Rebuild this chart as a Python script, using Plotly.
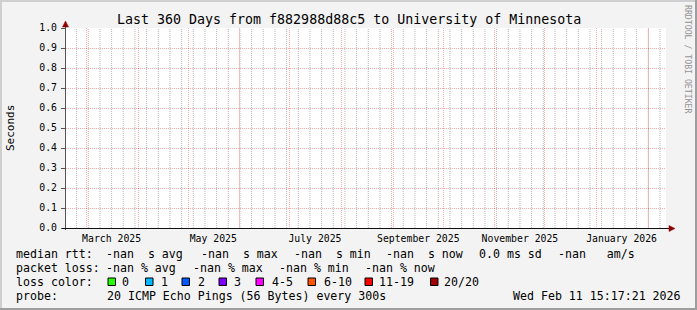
import pandas as pd
import plotly.graph_objects as go

# ---------------- data ----------------
TITLE = "Last 360 Days from f882988d88c5 to University of Minnesota"
Y_LABEL = "Seconds"
WATERMARK = "RRDTOOL / TOBI OETIKER"
START = "2025-02-16 15:17:21"
END = "2026-02-11 15:17:21"

sample_times = [START, END]
median_rtt = [None, None]          # every sample is NaN in the source graph

month_starts = ["2025-03-01", "2025-04-01", "2025-05-01", "2025-06-01",
                "2025-07-01", "2025-08-01", "2025-09-01", "2025-10-01",
                "2025-11-01", "2025-12-01", "2026-01-01", "2026-02-01"]
label_dates = ["2025-03-16", "2025-05-16", "2025-07-16",
               "2025-09-16", "2025-11-16", "2026-01-16"]
label_text = ["March 2025", "May 2025", "July 2025",
              "September 2025", "November 2025", "January 2026"]
first_sunday = "2025-02-23"

y_ticks = [0.0, 0.1, 0.2, 0.3, 0.4, 0.5, 0.6, 0.7, 0.8, 0.9, 1.0]

rtt_items = ["-nan  s avg", "-nan  s max", "-nan  s min", "-nan  s now",
             "0.0 ms sd", "-nan   am/s"]
loss_items = ["-nan % avg", "-nan % max", "-nan % min", "-nan % now"]
loss_labels = ["0", "1", "2", "3", "4-5", "6-10", "11-19", "20/20"]
loss_colors = ["#26ff00", "#00b8ff", "#0059ff", "#7e00ff",
               "#ff00ff", "#ff5500", "#ff0000", "#a10000"]
probe_text = "20 ICMP Echo Pings (56 Bytes) every 300s"
stamp_text = "Wed Feb 11 15:17:21 2026"

# weekly grid positions (Sundays) inside the time window
week_lines = [d.strftime("%Y-%m-%d") for d in
              pd.date_range(first_sunday, END, freq="7D")]

# ---------------- layout helpers ----------------
W, H = 697, 310
L, R, T, B = 66, 666, 28, 228
MONO = "DejaVu Sans Mono"


def px(x):
    return (x - L) / (R - L)


def py(y):
    return (B - y) / (B - T)


def nb(s):
    return s.replace(" ", "\u00a0")


fig = go.Figure()
fig.add_trace(go.Scatter(x=sample_times, y=median_rtt, mode="lines",
                         line=dict(color="#00ff00"), showlegend=False,
                         hoverinfo="skip"))
fig.add_trace(go.Scatter(x=sample_times, y=median_rtt, xaxis="x2",
                         mode="lines", showlegend=False, hoverinfo="skip"))

MAJ = "rgba(255,0,0,0.33)"
MIN = "#b6b6b6"

fig.update_layout(
    width=W, height=H,
    margin=dict(l=L, r=W - R, t=T, b=H - B, pad=0),
    paper_bgcolor="#f3f3f3", plot_bgcolor="#ffffff",
    showlegend=False,
    font=dict(family=MONO, size=10, color="#000"),
    # monthly major grid
    xaxis=dict(
        type="date", range=[START, END],
        tickmode="array", tickvals=month_starts,
        showticklabels=False, ticks="", showgrid=True, gridcolor=MAJ,
        griddash="1px,1px", gridwidth=1, zeroline=False,
        showline=True, linecolor="#111", linewidth=1,
    ),
    # month labels
    xaxis2=dict(
        type="date", range=[START, END], overlaying="x", side="bottom",
        anchor="y", tickmode="array", tickvals=label_dates,
        ticktext=label_text, showgrid=False, zeroline=False, ticks="",
        showline=False, tickfont=dict(family=MONO, size=9.8, color="#000"),
        ticklabelstandoff=3,
    ),
    yaxis=dict(
        range=[0, 1], tickmode="array", tickvals=y_ticks,
        tickformat=".1f", showgrid=True, gridcolor=MAJ,
        griddash="1px,1px", zeroline=False,
        showline=True, linecolor="#555", linewidth=1,
        ticks="outside", ticklen=4, tickcolor="#555",
        tickfont=dict(family=MONO, size=9.8, color="#000"),
        ticklabelstandoff=2,
    ),
)

shapes = []
# weekly minor grid lines
for d in week_lines:
    shapes.append(dict(type="line", xref="x", yref="paper", x0=d, x1=d,
                       y0=0, y1=1, layer="below",
                       line=dict(color=MIN, width=1, dash="1px,1px")))
# 3D frame
shapes.append(dict(type="rect", xref="paper", yref="paper",
                   x0=px(0), x1=px(2), y0=py(0), y1=py(H),
                   fillcolor="#cfcfcf", line=dict(width=0), layer="below"))
shapes.append(dict(type="rect", xref="paper", yref="paper",
                   x0=px(0), x1=px(W), y0=py(0), y1=py(2),
                   fillcolor="#cfcfcf", line=dict(width=0), layer="below"))
shapes.append(dict(type="rect", xref="paper", yref="paper",
                   x0=px(W - 2), x1=px(W), y0=py(0), y1=py(H),
                   fillcolor="#9e9e9e", line=dict(width=0), layer="below"))
shapes.append(dict(type="rect", xref="paper", yref="paper",
                   x0=px(0), x1=px(W), y0=py(H - 2), y1=py(H),
                   fillcolor="#9e9e9e", line=dict(width=0), layer="below"))
# axis extensions and arrows
ARROW = "#8b0000"
shapes.append(dict(type="line", xref="paper", yref="paper",
                   x0=px(L - 0.5), x1=px(L - 0.5), y0=py(B + 2), y1=py(24),
                   line=dict(color="#555", width=1)))
shapes.append(dict(type="line", xref="paper", yref="paper",
                   x0=px(62), x1=px(670), y0=py(B + 0.5), y1=py(B + 0.5),
                   line=dict(color="#111", width=1)))
shapes.append(dict(type="path", xref="paper", yref="paper",
                   path="M {a},{b} L {c},{b} L {d},{e} Z".format(
                       a=px(L - 3.5), c=px(L + 2.5), b=py(27),
                       d=px(L - 0.5), e=py(21)),
                   fillcolor=ARROW, line=dict(color=ARROW, width=0.5)))
shapes.append(dict(type="path", xref="paper", yref="paper",
                   path="M {a},{b} L {a},{c} L {d},{e} Z".format(
                       a=px(669), b=py(B - 2.5), c=py(B + 3.5),
                       d=px(675), e=py(B + 0.5)),
                   fillcolor=ARROW, line=dict(color=ARROW, width=0.5)))

# loss colour boxes
box_x = [108, 145.5, 182, 219, 256, 308, 365, 430.5]
label_x = [122.3, 160.5, 198, 234, 271.7, 324, 379, 444]
ROW_Y = [254, 268.3, 281.7, 296]
for bx, col in zip(box_x, loss_colors):
    shapes.append(dict(type="rect", xref="paper", yref="paper",
                       x0=px(bx), x1=px(bx + 7.5),
                       y0=py(ROW_Y[2] + 3.8), y1=py(ROW_Y[2] - 3.7),
                       fillcolor=col, line=dict(color="#000", width=1)))
fig.update_layout(shapes=shapes)

ann = []


def text(s, x, y, size=11.6, anchor="left", angle=0, color="#000",
         yanchor="middle"):
    ann.append(dict(text=nb(s), x=px(x), y=py(y), xref="paper",
                    yref="paper", xanchor=anchor, yanchor=yanchor,
                    showarrow=False, textangle=angle, borderpad=0,
                    borderwidth=0,
                    font=dict(family=MONO, size=size, color=color)))


text(TITLE, 348.5, 19.3, size=13.3, anchor="center")
text(Y_LABEL, 10, 128, size=11, anchor="center", angle=-90)
text(WATERMARK, 688, 59, size=8.2, anchor="center", angle=90, color="#939393")

text("median rtt:", 15.5, ROW_Y[0])
for s, x in zip(rtt_items, [106, 200.5, 294, 386, 478.5, 558]):
    text(s, x, ROW_Y[0])
text("packet loss:", 15.5, ROW_Y[1])
for s, x in zip(loss_items, [106, 192.5, 278.5, 364.5]):
    text(s, x, ROW_Y[1])
text("loss color:", 15.5, ROW_Y[2])
for s, x in zip(loss_labels, label_x):
    text(s, x, ROW_Y[2])
text("probe:", 15.5, ROW_Y[3])
text(probe_text, 106.5, ROW_Y[3])
text(stamp_text, 680.5, ROW_Y[3], anchor="right")

fig.update_layout(annotations=ann)
fig.write_html("out.html")
